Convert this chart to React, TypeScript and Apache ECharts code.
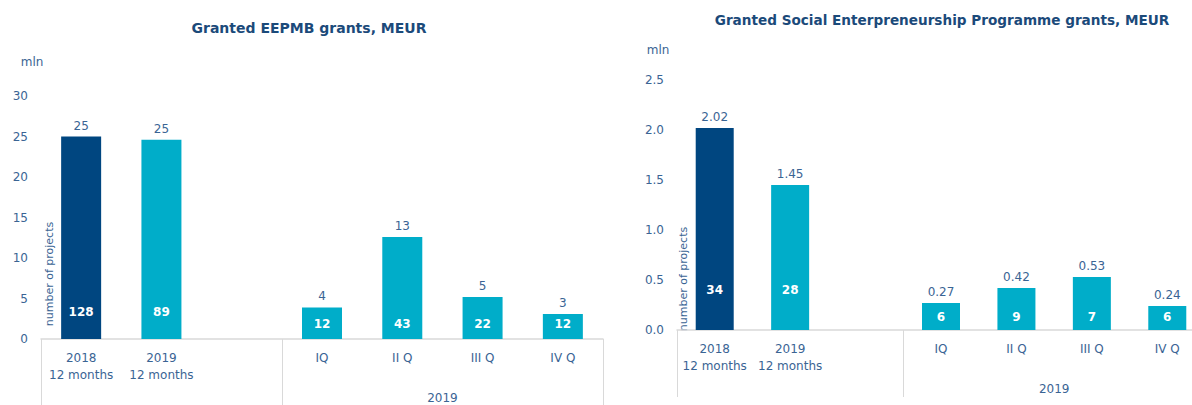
import React, { useEffect, useRef } from "react";
import * as echarts from "echarts";

// ---- data ----
const leftTitle = "Granted EEPMB grants, MEUR";
const rightTitle = "Granted Social Enterpreneurship Programme grants, MEUR";
const categories = ["2018\n12 months", "2019\n12 months", "", "IQ", "II Q", "III Q", "IV Q"];
const groupLabel = "2019";
const eepmbValues = [25.0, 24.6, null, 3.9, 12.6, 5.2, 3.1];
const eepmbProjects = [128, 89, null, 12, 43, 22, 12];
const sepValues = [2.02, 1.45, null, 0.27, 0.42, 0.53, 0.24];
const sepProjects = [34, 28, null, 6, 9, 7, 6];
const unitLabel = "mln";
const projectsLabel = "number of projects";

// ---- styles ----
const FONT = "'DejaVu Sans', sans-serif";
const TITLE_COLOR = "#1b4a7a";
const TEXT_COLOR = "#3a6494";
const DARK = "#004680";
const LIGHT = "#00adc9";
const GRID_LINE = "#d9d9d9";

function buildAxes(gridIndex: number) {
  return [
    {
      type: "category",
      gridIndex,
      data: categories,
      axisLine: { lineStyle: { color: GRID_LINE, width: 1.5 } },
      axisTick: { show: false },
      axisLabel: { color: TEXT_COLOR, fontSize: 12, lineHeight: 17, margin: 10, interval: 0 },
    },
    {
      type: "value",
      gridIndex,
      min: 0,
      max: 7,
      position: "bottom",
      axisLine: { show: false },
      splitLine: { show: false },
      axisTick: { show: true, customValues: [0, 3, 7], length: 67, lineStyle: { color: GRID_LINE, width: 1 } },
      axisLabel: { customValues: [5], formatter: () => groupLabel, margin: 53, color: TEXT_COLOR, fontSize: 12 },
    },
  ];
}

function buildSeries(
  axisIndex: number,
  values: (number | null)[],
  projects: (number | null)[],
  fmt: (v: number) => string,
  barWidth: number,
  annualDist: number,
  quarterDist: number
) {
  return [
    {
      type: "bar",
      xAxisIndex: axisIndex,
      yAxisIndex: axisIndex / 2,
      barWidth,
      barGap: "-100%",
      data: values.map((v, i) => ({ value: v, itemStyle: { color: i === 0 ? DARK : LIGHT } })),
      label: {
        show: true,
        position: "top",
        distance: 5,
        color: TEXT_COLOR,
        fontSize: 12,
        formatter: (p: any) => (p.value == null ? "" : fmt(p.value)),
      },
    },
    {
      type: "bar",
      xAxisIndex: axisIndex,
      yAxisIndex: axisIndex / 2,
      barWidth,
      barGap: "-100%",
      silent: true,
      itemStyle: { color: "transparent" },
      data: values.map((v, i) => ({ value: v, label: { distance: i < 2 ? annualDist : quarterDist } })),
      label: {
        show: true,
        position: "insideBottom",
        color: "#ffffff",
        fontWeight: "bold",
        fontSize: 12,
        formatter: (p: any) => (projects[p.dataIndex] == null ? "" : String(projects[p.dataIndex])),
      },
    },
  ];
}

export default function App() {
  const ref = useRef<HTMLDivElement>(null);
  useEffect(() => {
    if (!ref.current) return;
    const chart = echarts.init(ref.current, null, { renderer: "svg" });
    const [lx0, lx1] = buildAxes(0);
    const [rx0, rx1] = buildAxes(1);
    chart.setOption({
      animation: false,
      textStyle: { fontFamily: FONT },
      grid: [
        { left: 41, top: 96, width: 562, height: 243 },
        { left: 677, top: 80, width: 528, height: 250 },
      ],
      xAxis: [lx0, lx1, rx0, rx1],
      yAxis: [
        {
          type: "value",
          gridIndex: 0,
          min: 0,
          max: 30,
          interval: 5,
          axisLine: { show: false },
          axisTick: { show: false },
          splitLine: { show: false },
          axisLabel: { color: TEXT_COLOR, fontSize: 12, margin: 13 },
        },
        {
          type: "value",
          gridIndex: 1,
          min: 0,
          max: 2.5,
          interval: 0.5,
          axisLine: { show: false },
          axisTick: { show: false },
          splitLine: { show: false },
          axisLabel: { color: TEXT_COLOR, fontSize: 12, margin: 13, formatter: (v: number) => v.toFixed(1) },
        },
      ],
      series: [
        ...buildSeries(0, eepmbValues, eepmbProjects, (v) => String(Math.round(v)), 40, 21, 9),
        ...buildSeries(2, sepValues, sepProjects, (v) => v.toFixed(2), 38, 34, 7),
      ],
      graphic: [
        { type: "text", x: 309, y: 28, style: { text: leftTitle, fill: TITLE_COLOR, font: `bold 14px ${FONT}`, textAlign: "center", textVerticalAlign: "middle" } },
        { type: "text", x: 942, y: 20, style: { text: rightTitle, fill: TITLE_COLOR, font: `bold 13.6px ${FONT}`, textAlign: "center", textVerticalAlign: "middle" } },
        { type: "text", x: 32, y: 62, style: { text: unitLabel, fill: TEXT_COLOR, font: `12px ${FONT}`, textAlign: "center", textVerticalAlign: "middle" } },
        { type: "text", x: 658, y: 50, style: { text: unitLabel, fill: TEXT_COLOR, font: `12px ${FONT}`, textAlign: "center", textVerticalAlign: "middle" } },
        { type: "text", x: 49, y: 274, rotation: Math.PI / 2, style: { text: projectsLabel, fill: TEXT_COLOR, font: `11px ${FONT}`, textAlign: "center", textVerticalAlign: "middle" } },
        { type: "text", x: 683, y: 279, rotation: Math.PI / 2, style: { text: projectsLabel, fill: TEXT_COLOR, font: `11px ${FONT}`, textAlign: "center", textVerticalAlign: "middle" } },
      ],
    });
    return () => chart.dispose();
  }, []);
  return (
    <div
      ref={ref}
      style={{ position: "fixed", left: 0, top: 0, width: 1212, height: 405, background: "#ffffff" }}
    />
  );
}
